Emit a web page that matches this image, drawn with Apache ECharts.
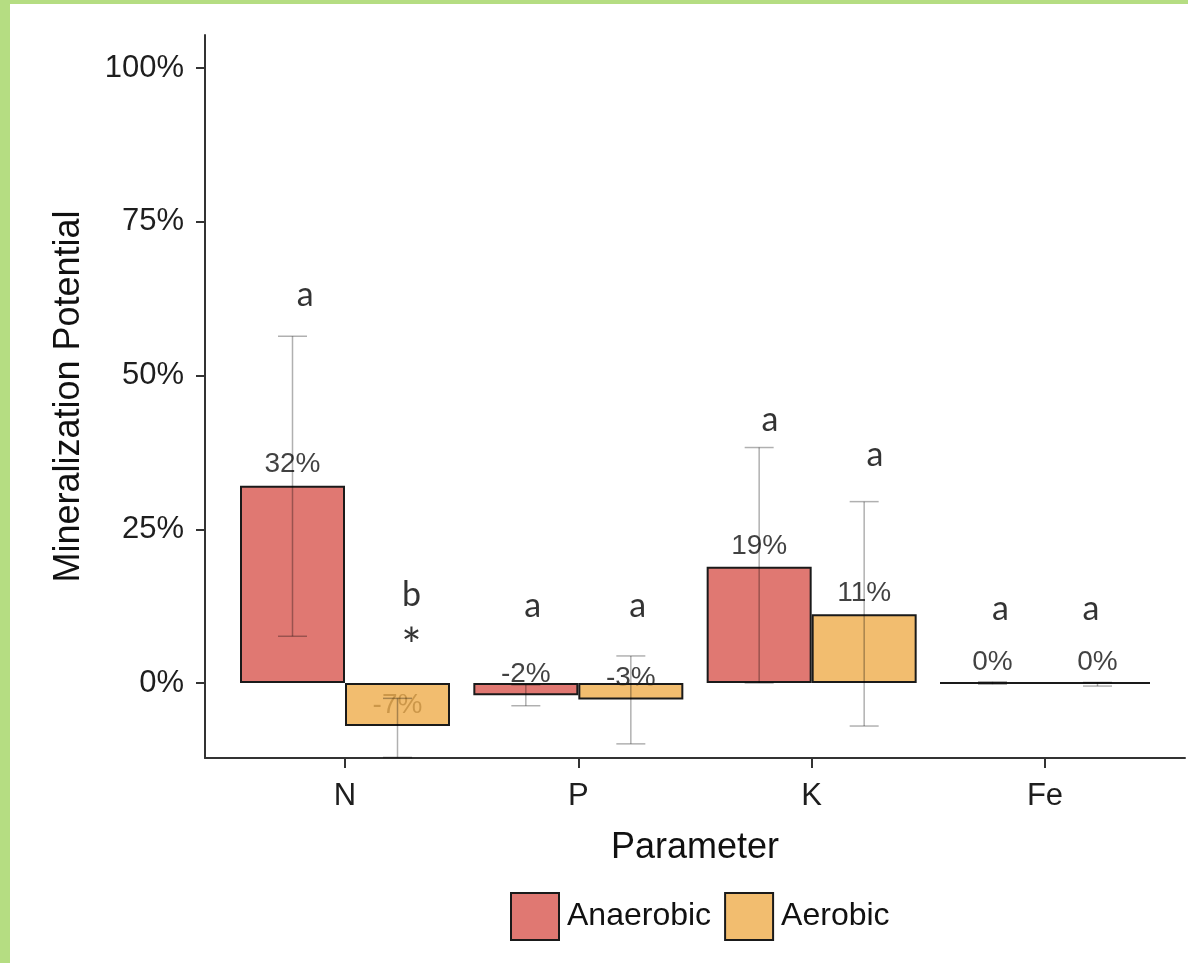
<!DOCTYPE html>
<html><head><meta charset="utf-8">
<script src="https://cdn.jsdelivr.net/npm/echarts@6/dist/echarts.min.js"></script>
<style>html,body{margin:0;padding:0;background:#fff}#c{width:1188px;height:963px}</style>
</head><body><div id="c"></div>
<script>
const categories = ['N', 'P', 'K', 'Fe'];
const seriesNames = ['Anaerobic', 'Aerobic'];
const anaerobic = [32.1, -2.0, 18.9, 0.0];
const aerobic = [-7.0, -2.7, 11.2, 0.0];
const anaerobicLow = [7.6, -3.7, 0.0, -0.2];
const anaerobicHigh = [56.4, -0.3, 38.3, 0.2];
const aerobicLow = [-12.1, -9.9, -7.0, -0.5];
const aerobicHigh = [-2.5, 4.4, 29.5, 0.1];
const yTicks = [0, 25, 50, 75, 100];
const annotText = ['a', 'b', '*', 'a', 'a', 'a', 'a', 'a', 'a'];
const annotX = [0.829, 1.285, 1.285, 1.804, 2.254, 2.821, 3.271, 3.809, 4.197];
const annotY = [63.1, 14.3, 5.7, 12.5, 12.5, 42.8, 37.1, 12.1, 12.1];

const dodge = 0.225;
const font = 'Liberation Sans, Arial, sans-serif';
const fills = ['rgba(216,86,79,0.8)', 'rgba(239,173,75,0.8)'];
const catX = categories.map((c, i) => i + 1);

const vals = [anaerobic, aerobic];
const lows = [anaerobicLow, aerobicLow];
const highs = [anaerobicHigh, aerobicHigh];
const offs = [-dodge, dodge];

const series = [];
// value labels (under the semi-transparent bars)
vals.forEach((arr, s) => {
  series.push({
    type: 'scatter', z: 1, silent: true,
    symbolSize: 1, itemStyle: { color: 'rgba(0,0,0,0)' },
    data: arr.map((v, i) => [catX[i] + offs[s], v]),
    label: {
      show: true, position: 'inside', offset: [0, -21],
      formatter: p => Math.round(p.value[1]) + '%',
      fontSize: 28, fontFamily: font, color: '#111'
    }
  });
});
// bars
vals.forEach((arr, s) => {
  series.push({
    type: 'bar', name: seriesNames[s], z: 2,
    barGap: '0%', barCategoryGap: '10%',
    itemStyle: { color: fills[s], borderColor: '#1a1a1a', borderWidth: 2 },
    data: arr.map((v, i) => [catX[i], v])
  });
});
// error bars
vals.forEach((arr, s) => {
  series.push({
    type: 'custom', z: 3, silent: true,
    encode: { x: 0, y: [1, 2] },
    data: arr.map((v, i) => [catX[i] + offs[s], lows[s][i], highs[s][i]]),
    renderItem: (params, api) => {
      const x = api.value(0);
      const pLo = api.coord([x, api.value(1)]);
      const pHi = api.coord([x, api.value(2)]);
      const hw = 14.5;
      const st = { stroke: 'rgba(0,0,0,0.31)', lineWidth: 1.5 };
      return {
        type: 'group', children: [
          { type: 'line', shape: { x1: pLo[0], y1: pLo[1], x2: pHi[0], y2: pHi[1] }, style: st },
          { type: 'line', shape: { x1: pLo[0] - hw, y1: pLo[1], x2: pLo[0] + hw, y2: pLo[1] }, style: st },
          { type: 'line', shape: { x1: pHi[0] - hw, y1: pHi[1], x2: pHi[0] + hw, y2: pHi[1] }, style: st }
        ]
      };
    }
  });
});
// significance letters
series.push({
  type: 'scatter', z: 4, silent: true,
  symbolSize: 1, itemStyle: { color: 'rgba(0,0,0,0)' },
  data: annotText.map((t, i) => [annotX[i], annotY[i], t]),
  label: {
    show: true, position: 'inside',
    formatter: p => p.value[2] === '*' ? '{s|*}' : p.value[2],
    fontSize: 34, fontFamily: 'Lato, Carlito, Calibri, sans-serif', color: '#000',
    rich: { s: { fontSize: 48, fontFamily: 'Lato, Carlito, Calibri, sans-serif', color: '#000' } }
  }
});

const chart = echarts.init(document.getElementById('c'));
chart.setOption({
  animation: false,
  backgroundColor: '#fff',
  graphic: [
    { type: 'rect', left: 0, top: 0, shape: { width: 1188, height: 4 }, style: { fill: '#b5dd82' }, z: 100 },
    { type: 'rect', left: 0, top: 0, shape: { width: 10, height: 963 }, style: { fill: '#b5dd82' }, z: 100 }
  ],
  grid: { left: 205, right: 3, top: 35, bottom: 205, containLabel: false },
  legend: {
    data: seriesNames, left: 510, top: 892, icon: 'rect', padding: 0,
    itemWidth: 48, itemHeight: 47, itemGap: 13,
    textStyle: { fontSize: 32, fontFamily: font, color: '#111', padding: [0, 0, 0, 3] },
    selectedMode: false
  },
  xAxis: {
    type: 'value', min: 0.4, max: 4.6,
    splitLine: { show: false },
    axisLine: { show: true, onZero: false, lineStyle: { color: '#333', width: 2 } },
    axisTick: { show: true, length: 10, customValues: catX, lineStyle: { color: '#333', width: 2 } },
    axisLabel: {
      customValues: catX, formatter: v => categories[Math.round(v) - 1],
      fontSize: 31, fontFamily: font, color: '#1e1e1e', margin: 23
    },
    name: 'Parameter', nameLocation: 'middle', nameGap: 72,
    nameTextStyle: { fontSize: 36, fontFamily: font, color: '#111' }
  },
  yAxis: {
    type: 'value', min: -12.2, max: 105.4,
    splitLine: { show: false },
    axisLine: { show: true, lineStyle: { color: '#333', width: 2 } },
    axisTick: { show: true, length: 9, customValues: yTicks, lineStyle: { color: '#333', width: 2 } },
    axisLabel: {
      customValues: yTicks, formatter: v => v + '%',
      fontSize: 31, fontFamily: font, color: '#1e1e1e', margin: 21, padding: [4, 0, 0, 0]
    },
    name: 'Mineralization Potential', nameLocation: 'middle', nameGap: 118,
    nameTextStyle: { fontSize: 36, fontFamily: font, color: '#111' }
  },
  series: series
});
</script>
</body></html>
